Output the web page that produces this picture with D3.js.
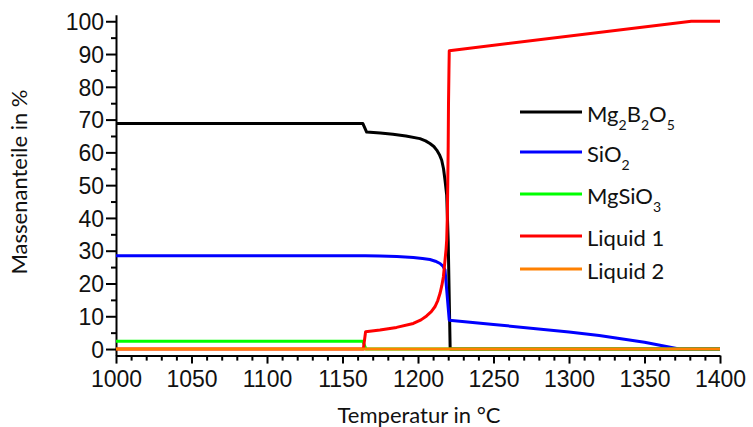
<!DOCTYPE html>
<html><head><meta charset="utf-8">
<script src="https://cdn.jsdelivr.net/npm/d3@7"></script>
<style>
html,body{margin:0;padding:0;background:#fff;}
svg{display:block;}
</style></head>
<body>
<svg id="chart" width="753" height="427"></svg>
<script>
// ---- data (temperature °C, mass fraction %) ----
const mg2b2o5 = [[1000,68.8],[1163.5,68.8],[1166,66.2],[1175,65.9],[1183.4,65.5],[1192,65.0],[1201.3,64.2],[1205,63.5],[1207.9,62.7],[1210.5,61.8],[1212.4,60.7],[1214.2,59.3],[1215.7,57.6],[1216.9,55],[1217.9,51.5],[1219,47],[1220,33],[1221.3,0],[1400,0]];
const sio2 = [[1000,28.5],[1165,28.5],[1174.8,28.4],[1186,28.2],[1196.9,27.9],[1203,27.6],[1207.9,27.3],[1211.5,26.8],[1214.6,26.1],[1216.5,25.3],[1217.9,24.1],[1220.7,8.8],[1250,7.5],[1300,5.2],[1320,4.1],[1350,2.1],[1373,0],[1400,0]];
const mgsio3 = [[1000,2.4],[1163.5,2.4],[1165.5,0],[1400,0]];
const liquid1 = [[1000,0],[1163.8,0],[1165.3,5.3],[1174.8,5.8],[1185.8,6.6],[1196.9,7.8],[1202,8.9],[1205.7,10.1],[1208.8,11.4],[1211.2,12.9],[1213.1,14.8],[1214.6,17],[1215.8,19.4],[1216.8,22],[1217.9,27.1],[1218.6,30.5],[1219,33.2],[1219.4,40],[1219.7,50],[1220,62],[1220.2,75],[1220.5,85],[1220.7,91],[1381,100],[1400,100]];
const liquid2 = [[1000,0],[1400,0]];

const seriesNames = ["Mg2B2O5","SiO2","MgSiO3","Liquid 1","Liquid 2"];
const seriesData = [mg2b2o5, sio2, mgsio3, liquid1, liquid2];
const seriesColors = ["#000000","#0000ff","#00ff00","#ff0000","#ff8000"];
// legend labels: [text, isSubscript] parts
const legendParts = [
  [["Mg",false],["2",true],["B",false],["2",true],["O",false],["5",true]],
  [["SiO",false],["2",true]],
  [["MgSiO",false],["3",true]],
  [["Liquid 1",false]],
  [["Liquid 2",false]]
];
const xMajorTicks = [1000,1050,1100,1150,1200,1250,1300,1350,1400];
const yMajorTicks = [0,10,20,30,40,50,60,70,80,90,100];

// ---- layout ----
const svg = d3.select("#chart");
const x = d3.scaleLinear().domain([1000,1400]).range([116,720]);
const y = d3.scaleLinear().domain([-2,102]).range([355.6,14.7]);
const tickFont = "'Liberation Sans', Arial, sans-serif";
const textFont = "Lato, 'Open Sans', sans-serif";

// minor ticks
const xMinor = d3.range(1000,1401,10).filter(v => v % 50 !== 0);
const yMinor = d3.range(5,101,10);

const gx = svg.append("g").attr("transform",`translate(0,${y(-2)})`);
gx.call(d3.axisBottom(x).tickValues(xMinor).tickSize(5).tickSizeOuter(0).tickFormat(""));
gx.call(g => g.select(".domain").remove());
const gx2 = svg.append("g").attr("transform",`translate(0,${y(-2)})`);
gx2.call(d3.axisBottom(x).tickValues(xMajorTicks).tickSize(8).tickSizeOuter(0).tickPadding(7).tickFormat(d3.format("d")));

const gy = svg.append("g").attr("transform",`translate(${x(1000)},0)`);
gy.call(d3.axisLeft(y).tickValues(yMinor).tickSize(5).tickSizeOuter(0).tickFormat(""));
gy.call(g => g.select(".domain").remove());
const gy2 = svg.append("g").attr("transform",`translate(${x(1000)},0)`);
gy2.call(d3.axisLeft(y).tickValues(yMajorTicks).tickSize(10).tickSizeOuter(0).tickPadding(2).tickFormat(d3.format("d")));

svg.selectAll(".domain, .tick line").attr("stroke","#000").attr("stroke-width",2);
svg.selectAll(".tick text").attr("font-family",tickFont).attr("font-size",23).attr("fill","#111");
gy2.selectAll(".tick text").attr("dy","0.36em");
gx2.selectAll(".tick text").attr("dy","0.72em");

// ---- lines ----
const line = d3.line().x(d => x(d[0])).y(d => y(d[1])).curve(d3.curveLinear);
svg.append("g").selectAll("path").data(seriesData).join("path")
  .attr("d", line).attr("fill","none")
  .attr("stroke",(d,i) => seriesColors[i]).attr("stroke-width",3)
  .attr("stroke-linejoin","round");

// ---- axis titles ----
svg.append("text").attr("x",419).attr("y",423).attr("text-anchor","middle")
  .attr("font-family",textFont).attr("font-size",22).attr("fill","#111")
  .text("Temperatur in °C");
svg.append("text").attr("transform","translate(27,182) rotate(-90)").attr("text-anchor","middle")
  .attr("font-family",textFont).attr("font-size",22).attr("fill","#111")
  .text("Massenanteile in %");

// ---- legend ----
const legendY = [112,152,194,236,269];
const leg = svg.append("g");
seriesNames.forEach((name,i) => {
  leg.append("line").attr("x1",520).attr("x2",582).attr("y1",legendY[i]).attr("y2",legendY[i])
    .attr("stroke",seriesColors[i]).attr("stroke-width",3);
  const t = leg.append("text").attr("x",587).attr("y",legendY[i]+9.5)
    .attr("font-family",textFont).attr("font-size",22).attr("fill","#111");
  let shift = 0;
  legendParts[i].forEach(([s,sub]) => {
    const target = sub ? 8 : 0;
    const ts = t.append("tspan").text(s).attr("dy", target - shift);
    if (sub) ts.attr("font-size",14);
    shift = target;
  });
});
</script>
</body></html>
